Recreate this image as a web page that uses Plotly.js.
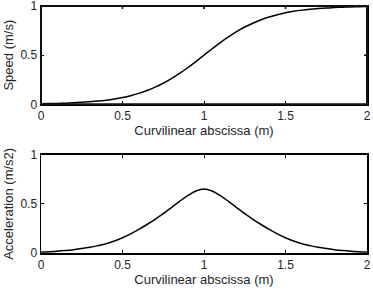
<!DOCTYPE html>
<html>
<head>
<meta charset="utf-8">
<script src="https://cdn.plot.ly/plotly-3.0.1.min.js"></script>
<style>html,body{margin:0;padding:0;background:#fff;}#chart{width:373px;height:294px;}</style>
</head>
<body>
<div id="chart"></div>
<script>
const abscissa = [0,0.05,0.1,0.15,0.2,0.25,0.3,0.35,0.4,0.45,0.5,0.55,0.6,0.65,0.7,0.75,0.8,0.85,0.9,0.95,1,1.05,1.1,1.15,1.2,1.25,1.3,1.35,1.4,1.45,1.5,1.55,1.6,1.65,1.7,1.75,1.8,1.85,1.9,1.95,2];
const speed = [0.005,0.007,0.009,0.012,0.016,0.020,0.026,0.033,0.042,0.054,0.069,0.088,0.111,0.140,0.175,0.214,0.261,0.314,0.372,0.435,0.500,0.565,0.628,0.686,0.739,0.786,0.825,0.860,0.889,0.912,0.931,0.946,0.958,0.967,0.974,0.980,0.984,0.988,0.991,0.993,0.995];
const acceleration = [0.009,0.013,0.018,0.025,0.034,0.045,0.058,0.075,0.095,0.122,0.155,0.195,0.240,0.290,0.343,0.400,0.462,0.525,0.583,0.630,0.652,0.630,0.583,0.525,0.462,0.400,0.343,0.290,0.240,0.195,0.155,0.122,0.095,0.075,0.058,0.045,0.034,0.025,0.018,0.013,0.009];
const xTicks = [0,0.5,1,1.5,2];
const xTickText = ['0','0.5','1','1.5','2'];
const yTicks = [0,0.5,1];
const yTickText = ['0','0.5','1'];

const font = {family: 'Liberation Sans, Arial, sans-serif', size: 12, color: '#262626'};
const titleFont = {family: 'Liberation Sans, Arial, sans-serif', size: 13, color: '#262626'};
const topDomain = [0.602, 1];
const bottomDomain = [0, 0.398];

function xa(anchor) {
  return {
    range: [0, 2], tickvals: xTicks, ticktext: xTickText, domain: [0, 1],
    ticks: 'inside', ticklen: 3, tickwidth: 1, tickcolor: '#000',
    showline: true, linecolor: '#000', linewidth: 1.5, mirror: 'ticks',
    showgrid: false, zeroline: false, anchor: anchor,
    tickfont: font, fixedrange: true, ticklabeloverflow: 'allow',
    title: {text: 'Curvilinear abscissa (m)', font: titleFont, standoff: 2}
  };
}
function ya(label, dom, anchor) {
  return {
    range: [0, 1], tickvals: yTicks, ticktext: yTickText, domain: dom,
    ticks: 'inside', ticklen: 3, tickwidth: 1, tickcolor: '#000',
    showline: true, linecolor: '#000', linewidth: 1.5, mirror: 'ticks',
    showgrid: false, zeroline: false, anchor: anchor,
    tickfont: font, fixedrange: true, ticklabeloverflow: 'allow',
    title: {text: label, font: titleFont, standoff: 4}
  };
}

const data = [
  {x: abscissa, y: acceleration, type: 'scatter', mode: 'lines', line: {color: '#000', width: 1.5, shape: 'spline'}, xaxis: 'x', yaxis: 'y', hoverinfo: 'skip'},
  {x: abscissa, y: speed, type: 'scatter', mode: 'lines', line: {color: '#000', width: 1.5, shape: 'spline'}, xaxis: 'x2', yaxis: 'y2', hoverinfo: 'skip'}
];

// box frame for the top panel plus mirrored inside tick marks on its top and right edges
const shapes = [
  {type: 'rect', xref: 'paper', yref: 'paper', x0: 0, x1: 1, y0: topDomain[0], y1: topDomain[1],
   line: {color: '#111', width: 2}, fillcolor: 'rgba(0,0,0,0)', layer: 'above'}
];
xTicks.forEach(t => shapes.push({type: 'line', xref: 'x', yref: 'paper', ysizemode: 'pixel', yanchor: topDomain[1],
  x0: t, x1: t, y0: 0, y1: -3, line: {color: '#111', width: 1.5}, layer: 'above'}));
yTicks.forEach(t => shapes.push({type: 'line', xref: 'paper', yref: 'y2', xsizemode: 'pixel', xanchor: 1,
  x0: 0, x1: -3, y0: t, y1: t, line: {color: '#111', width: 1.5}, layer: 'above'}));

const layout = {
  width: 373, height: 294,
  margin: {l: 41, r: 6, t: 6, b: 41, pad: 0},
  paper_bgcolor: '#fff', plot_bgcolor: '#fff',
  showlegend: false,
  xaxis: xa('y'),
  yaxis: ya('Acceleration (m/s2)', bottomDomain, 'x'),
  xaxis2: xa('y2'),
  yaxis2: ya('Speed (m/s)', topDomain, 'x2'),
  shapes: shapes
};

Plotly.newPlot('chart', data, layout, {displayModeBar: false, staticPlot: true});
</script>
</body>
</html>
